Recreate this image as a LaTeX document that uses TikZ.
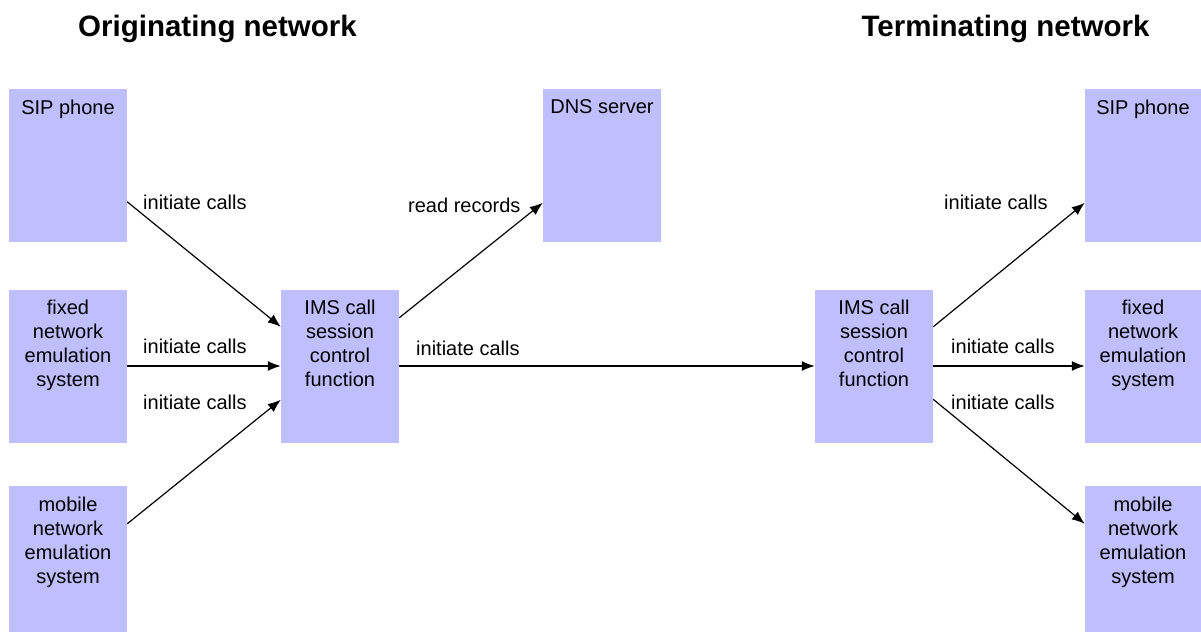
\documentclass[tikz,border=0pt]{standalone}
\usepackage{fontspec}
\setmainfont{Liberation Sans}
\usetikzlibrary{arrows.meta}
\definecolor{boxfill}{RGB}{191,191,255}
\tikzset{
  unit/.style={rectangle, fill=boxfill, draw=none, inner sep=0pt,
    minimum width=118pt, minimum height=153pt},
  boxtext/.style={anchor=north, inner sep=0pt, align=center,
    font=\fontsize{20}{24}\selectfont},
  flowlabel/.style={anchor=base west, inner sep=0pt,
    font=\fontsize{20}{24}\selectfont},
  heading/.style={anchor=base, inner sep=0pt,
    font=\fontsize{29.5}{34}\selectfont\bfseries},
  flow/.style={line width=1.2pt, -{Latex[length=13pt,width=10pt]}}
}
\newcommand{\unitbox}[4]{%
  \node[unit, #4] (#1) at (#2) {};
  \node[boxtext] at ([yshift=-11pt]#1.north) {#3};
}
\begin{document}
\begin{tikzpicture}[x=1pt,y=-1pt]
\useasboundingbox (0,0) rectangle (1201,632);

% headings
\node[heading] (hO) at (217.5,36) {Originating network};
\node[heading] (hT) at (1005.5,36) {Terminating network};

% originating side
\unitbox{sipL}{68,165.5}{SIP phone}{}
\unitbox{fixL}{68,366}{fixed\\network\\emulation\\system}{}
\unitbox{mobL}{68,559}{mobile\\network\\emulation\\system}{minimum height=146pt}
\unitbox{imsL}{340,366}{IMS call\\session\\control\\function}{}
\unitbox{dns}{602,165.5}{DNS server}{}

% terminating side
\unitbox{imsR}{874,366}{IMS call\\session\\control\\function}{}
\unitbox{sipR}{1143,165.5}{SIP phone}{minimum width=116pt}
\unitbox{fixR}{1143,366}{fixed\\network\\emulation\\system}{minimum width=116pt}
\unitbox{mobR}{1143,559}{mobile\\network\\emulation\\system}{minimum width=116pt, minimum height=146pt}

% connectors
\draw[flow] ([yshift=-113pt]sipL.north east) -- ([yshift=-37.5pt]imsL.north west);
\draw[flow] (fixL.east) -- (imsL.west);
\draw[flow] ([yshift=-38pt]mobL.north east) -- ([yshift=-110.5pt]imsL.north west);
\draw[flow] ([yshift=-28.5pt]imsL.north east) -- ([yshift=-114pt]dns.north west);
\draw[flow] (imsL.east) -- (imsR.west);
\draw[flow] ([yshift=-37.5pt]imsR.north east) -- ([yshift=-114pt]sipR.north west);
\draw[flow] (imsR.east) -- (fixR.west);
\draw[flow] ([yshift=-110pt]imsR.north east) -- ([yshift=-38pt]mobR.north west);

% connector labels
\node[flowlabel] (l1) at (143,209.5) {initiate calls};
\node[flowlabel] (l2) at (143,353.5) {initiate calls};
\node[flowlabel] (l3) at (143,409.5) {initiate calls};
\node[flowlabel] (l4) at (408,212.5) {read records};
\node[flowlabel] (l5) at (416,355) {initiate calls};
\node[flowlabel] (l6) at (944,209.5) {initiate calls};
\node[flowlabel] (l7) at (951,353.5) {initiate calls};
\node[flowlabel] (l8) at (951,409.5) {initiate calls};
\end{tikzpicture}
\end{document}
